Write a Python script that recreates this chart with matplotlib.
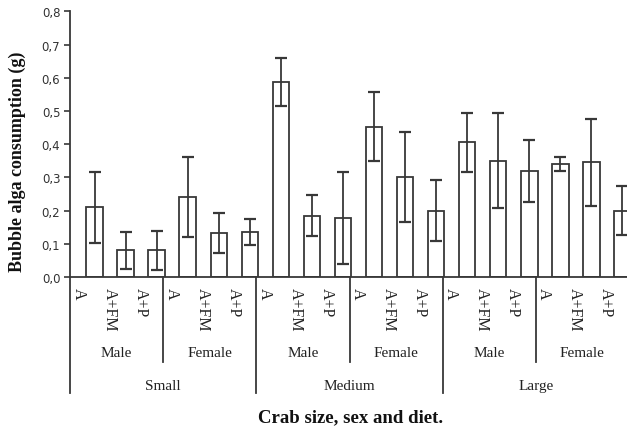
import matplotlib.pyplot as plt
from matplotlib.ticker import FuncFormatter

sizes = ['Small', 'Medium', 'Large']
sexes = ['Male', 'Female']
diets = ['A', 'A+FM', 'A+P']

# consumption means and error (one entry per size/sex/diet combination)
means = [0.21, 0.08, 0.08, 0.24, 0.133, 0.135,
         0.587, 0.185, 0.178, 0.453, 0.302, 0.20,
         0.405, 0.35, 0.32, 0.34, 0.345, 0.20]
errors = [0.107, 0.055, 0.06, 0.12, 0.06, 0.04,
          0.071, 0.063, 0.138, 0.105, 0.136, 0.093,
          0.09, 0.143, 0.094, 0.022, 0.13, 0.075]

line_col = '#383838'
serif = ['Liberation Serif', 'DejaVu Serif']

fig = plt.figure(figsize=(6.27, 4.31), dpi=100)
ax = fig.add_axes([70 / 627, 153 / 431, 559 / 627, 265.7 / 431])

n = len(means)
xpos = [i + 0.79 for i in range(n)]
ax.bar(xpos, means, width=0.53, color='white', edgecolor=line_col, linewidth=1.3, zorder=2)
ax.errorbar(xpos, means, yerr=errors, fmt='none', ecolor=line_col, elinewidth=1.3,
            capsize=4, capthick=1.6, zorder=3)

ax.set_xlim(0, n)
ax.set_ylim(0, 0.8)
ax.set_yticks([i / 10 for i in range(9)])
ax.yaxis.set_major_formatter(FuncFormatter(lambda v, p: f'{v:.1f}'.replace('.', ',')))
ax.tick_params(axis='y', direction='out', length=4, width=1.2, color=line_col,
               labelsize=8.5, labelcolor='#333333', pad=3)
ax.set_xticks([])
for s in ['top', 'right']:
    ax.spines[s].set_visible(False)
for s in ['left', 'bottom']:
    ax.spines[s].set_color(line_col)
    ax.spines[s].set_linewidth(1.3)

trans = ax.get_xaxis_transform()

# diet labels under each bar
for i in range(n):
    ax.text(i + 0.27, -0.036, diets[i % 3], transform=trans, rotation=-90,
            ha='center', va='top', fontsize=11.5, family=serif, color='#222222')

# sex group separators and labels
for k in range(6):
    if k % 2 == 1:
        ax.plot([k * 3, k * 3], [0, -0.32], transform=trans, color=line_col,
                lw=1.3, clip_on=False)
    ax.text(k * 3 + 1.5, -0.286, sexes[k % 2], transform=trans, ha='center',
            va='center', fontsize=11, family=serif, color='#222222')

# size group separators and labels
for k in range(3):
    ax.plot([k * 6, k * 6], [0, -0.437], transform=trans, color=line_col,
            lw=1.3, clip_on=False)
    ax.text(k * 6 + 3, -0.41, sizes[k], transform=trans, ha='center',
            va='center', fontsize=11, family=serif, color='#222222')

fig.text(351 / 627, 13 / 431, 'Crab size, sex and diet.', ha='center', va='center',
         fontsize=13.5, fontweight='bold', family=serif, color='#111111')
fig.text(17 / 627, 269 / 431, 'Bubble alga consumption (g)', ha='center', va='center',
         rotation=90, fontsize=13, fontweight='bold', family=serif, color='#111111')

fig.savefig('out.png', dpi=100)
